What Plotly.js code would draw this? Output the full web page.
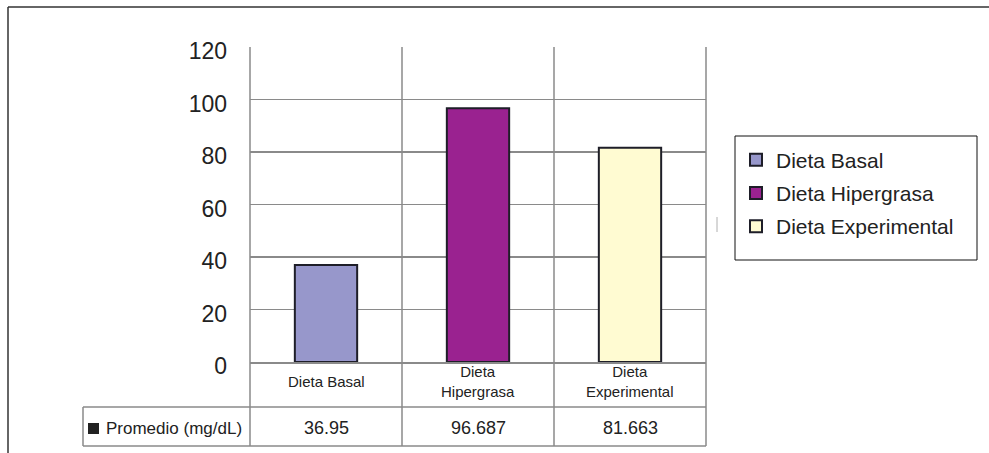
<!DOCTYPE html>
<html>
<head>
<meta charset="utf-8">
<script src="https://cdn.plot.ly/plotly-3.0.1.min.js"></script>
<style>
  html, body { margin: 0; padding: 0; background: #fff; }
  #chart { width: 989px; height: 453px; }
</style>
</head>
<body>
<div id="chart"></div>
<script>
// Average per diet group (mg/dL)
const categories = ['Dieta Basal', 'Dieta Hipergrasa', 'Dieta Experimental'];
const tableLabels = ['Dieta Basal', 'Dieta<br>Hipergrasa', 'Dieta<br>Experimental'];
const promedio = [36.95, 96.687, 81.663];
const rowLabel = 'Promedio (mg/dL)';
const barColors = ['#9797cb', '#9a2290', '#fffbd2'];

const W = 989, H = 453;
const M = { l: 250, r: 283, t: 47, b: 91 };
const PW = W - M.l - M.r, PH = H - M.t - M.b;
// pixel -> paper helpers for the frame, table and legend box
const px = v => (v - M.l) / PW;
const py = v => (H - M.b - v) / PH;

const FONT = 'Liberation Sans, Arial, sans-serif';
const TXT = '#222';
const GRID = '#8a8a8a';

const traces = categories.map((c, i) => ({
  type: 'bar',
  name: c,
  legendgroup: 'g' + i,
  x: [c],
  y: [promedio[i]],
  width: 0.41,
  marker: { color: barColors[i], line: { color: '#1e1e28', width: 2 } },
  hoverinfo: 'x+y'
}));

const shapes = [];
const line = (x0, y0, x1, y1, color, width) =>
  shapes.push({ type: 'line', xref: 'paper', yref: 'paper',
    x0: px(x0), y0: py(y0), x1: px(x1), y1: py(y1),
    line: { color: color, width: width } });

// category separators running through the plot and the data table
for (let k = 0; k <= categories.length; k++) {
  const xp = k / categories.length;
  shapes.push({ type: 'line', xref: 'paper', yref: 'paper',
    x0: xp, x1: xp, y0: py(446), y1: 1,
    line: { color: GRID, width: 1.5 } });
}
// data table rows
line(83, 407, 706, 407, GRID, 1.5);
line(83, 446, 706, 446, GRID, 1.5);
line(83, 407, 83, 446, GRID, 1.5);
// key square of the table row
shapes.push({ type: 'rect', xref: 'paper', yref: 'paper',
  x0: px(88), x1: px(99), y0: py(434), y1: py(423),
  fillcolor: '#222', line: { width: 0 } });
// outer frame
line(8, 7, 989, 7, '#333', 1.5);
line(8, 7, 8, 453, '#333', 1.5);
// legend frame
shapes.push({ type: 'rect', xref: 'paper', yref: 'paper',
  x0: px(735), x1: px(977), y0: py(260), y1: py(136),
  line: { color: '#111', width: 1 }, fillcolor: 'rgba(0,0,0,0)' });
// small stray mark left of the legend
line(717, 217, 717, 232, '#b0b0b0', 1);

const annotations = [];
categories.forEach((c, i) => {
  annotations.push({ xref: 'x', yref: 'paper', x: c, y: py(381),
    text: tableLabels[i], showarrow: false, yanchor: 'middle', xanchor: 'center',
    font: { family: FONT, size: 15, color: TXT } });
  annotations.push({ xref: 'x', yref: 'paper', x: c, y: py(428),
    text: String(promedio[i]), showarrow: false, yanchor: 'middle', xanchor: 'center',
    font: { family: FONT, size: 18, color: TXT } });
});
annotations.push({ xref: 'paper', yref: 'paper', x: px(104), y: py(428),
  text: rowLabel, showarrow: false, yanchor: 'middle', xanchor: 'left',
  font: { family: FONT, size: 17, color: TXT } });

const layout = {
  width: W, height: H,
  margin: M,
  paper_bgcolor: '#fff', plot_bgcolor: '#fff',
  barmode: 'overlay',
  showlegend: true,
  legend: {
    x: px(736), xanchor: 'left', y: py(193), yanchor: 'middle',
    bgcolor: 'rgba(0,0,0,0)', borderwidth: 0, tracegroupgap: 3,
    font: { family: FONT, size: 21, color: TXT }
  },
  xaxis: {
    type: 'category', range: [-0.5, 2.5],
    showticklabels: false, ticks: '', showgrid: false,
    showline: true, linecolor: GRID, linewidth: 1.5, zeroline: false, fixedrange: true
  },
  yaxis: {
    range: [0, 120], dtick: 20, tick0: 0,
    showgrid: true, gridcolor: GRID, gridwidth: 1.5,
    zeroline: false, showline: false, ticks: '',
    ticklabelstandoff: 22, ticklabelshift: 4,
    tickfont: { family: FONT, size: 23, color: TXT }, fixedrange: true
  },
  shapes: shapes,
  annotations: annotations
};

Plotly.newPlot('chart', traces, layout, { displayModeBar: false, staticPlot: true });
</script>
</body>
</html>
